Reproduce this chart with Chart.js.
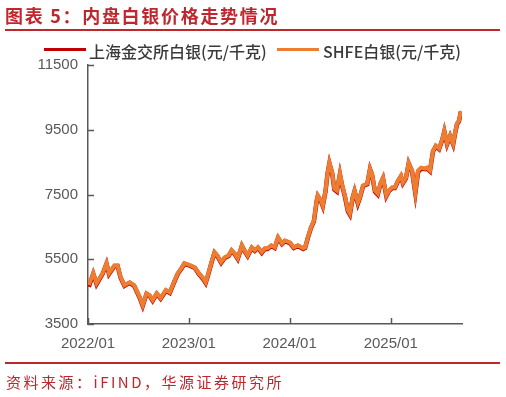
<!DOCTYPE html>
<html>
<head>
<meta charset="utf-8">
<script src="https://cdn.jsdelivr.net/npm/chart.js@4"></script>
<style>
  body { margin: 0; background: #fff; }
  #wrap { position: relative; width: 506px; height: 397px; overflow: hidden; }
  #chart { position: absolute; left: 0; top: 0; }
  .title { position: absolute; left: 5px; top: 2px; font: bold 18px "Noto Sans CJK SC", sans-serif; color: #c0262d; letter-spacing: 1.7px; white-space: nowrap; }
  .rule { position: absolute; left: 5px; width: 495px; height: 2px; background: #c0262d; }
  .legend { position: absolute; top: 39px; font: 500 16px "Noto Sans CJK SC", "Liberation Sans", sans-serif; color: #3a3a3a; white-space: nowrap; }
  .key { position: absolute; top: 48px; width: 42px; height: 3px; }
  .source { position: absolute; left: 6px; top: 371px; font: 15px "Noto Sans CJK SC", sans-serif; color: #c0262d; letter-spacing: 2.5px; white-space: nowrap; }
</style>
</head>
<body>
<div id="wrap">
  <canvas id="chart" width="506" height="397"></canvas>
  <div class="title">图表 5：内盘白银价格走势情况</div>
  <div class="rule" style="top:29px"></div>
  <div class="key" style="left:44px;background:#c00000"></div>
  <div class="legend" id="lg1" style="left:89px"></div>
  <div class="key" style="left:277px;background:#ed7d31"></div>
  <div class="legend" id="lg2" style="left:323px"></div>
  <div class="rule" style="top:362px"></div>
  <div class="source">资料来源：iFIND，华源证券研究所</div>
</div>
<script>
const seriesNames = ['上海金交所白银(元/千克)', 'SHFE白银(元/千克)'];

const dates = [
    '2022-01-04', '2022-01-20', '2022-02-01', '2022-02-23', '2022-03-09', '2022-03-18', '2022-04-07', '2022-04-18',
    '2022-04-29', '2022-05-13', '2022-06-01', '2022-06-17', '2022-07-07', '2022-07-18', '2022-08-01', '2022-08-12',
    '2022-08-23', '2022-09-07', '2022-09-21', '2022-10-10', '2022-10-24', '2022-11-11', '2022-11-22', '2022-12-07',
    '2022-12-16', '2023-01-05', '2023-01-23', '2023-02-06', '2023-02-21', '2023-03-03', '2023-03-14', '2023-03-24',
    '2023-04-04', '2023-04-14', '2023-04-28', '2023-05-11', '2023-05-25', '2023-06-05', '2023-06-16', '2023-06-27',
    '2023-07-12', '2023-07-21', '2023-08-02', '2023-08-17', '2023-08-28', '2023-09-08', '2023-09-22', '2023-10-03',
    '2023-10-13', '2023-10-27', '2023-11-08', '2023-11-20', '2023-12-04', '2023-12-15', '2024-01-02', '2024-01-16',
    '2024-01-31', '2024-02-19', '2024-02-26', '2024-03-07', '2024-03-18', '2024-03-29', '2024-04-08', '2024-04-12',
    '2024-04-23', '2024-04-30', '2024-05-10', '2024-05-17', '2024-05-24', '2024-06-03', '2024-06-11', '2024-06-20',
    '2024-07-01', '2024-07-08', '2024-07-19', '2024-07-30', '2024-08-06', '2024-08-16', '2024-08-23', '2024-09-04',
    '2024-09-11', '2024-09-23', '2024-10-08', '2024-10-18', '2024-10-25', '2024-11-05', '2024-11-15', '2024-11-26',
    '2024-12-04', '2024-12-16', '2024-12-25', '2025-01-06', '2025-01-16', '2025-01-27', '2025-02-07', '2025-02-14',
    '2025-02-25', '2025-03-07', '2025-03-19', '2025-03-31', '2025-04-10', '2025-04-21', '2025-05-06', '2025-05-12',
    '2025-05-23', '2025-06-03', '2025-06-13', '2025-06-25', '2025-07-07', '2025-07-14', '2025-07-24', '2025-08-04',
    '2025-08-15', '2025-08-22', '2025-08-29', '2025-09-05', '2025-09-12'
];

const shfe = [
    4700, 5070, 4760, 5070, 5380, 5070, 5310, 5310,
    4950, 4700, 4790, 4700, 4330, 4080, 4450, 4390,
    4240, 4450, 4300, 4550, 4480, 4850, 5070, 5250,
    5380, 5320, 5250, 5070, 4920, 4790, 5100, 5410,
    5720, 5620, 5410, 5560, 5620, 5780, 5680, 5530,
    5930, 5780, 5620, 5870, 5780, 5870, 5720, 5840,
    5840, 5930, 5870, 6180, 5990, 6080, 6020, 5870,
    5930, 5840, 5870, 6180, 6480, 6700, 7320, 7470,
    7320, 7160, 7620, 8150, 8480, 8180, 7680, 7620,
    8150, 7840, 7470, 7010, 6910, 7410, 7620, 7250,
    7410, 7780, 7840, 8300, 8150, 7620, 7530, 7870,
    8020, 7470, 7620, 7720, 7720, 7930, 8080, 7870,
    8020, 8480, 8240, 7560, 8240, 8330, 8300, 8330,
    8240, 8850, 9010, 8920, 9220, 9470, 9070, 9320,
    9070, 9410, 9690, 9780, 10080
];

const sge = [
    4650, 5050, 4730, 5050, 5360, 5040, 5290, 5290,
    4930, 4680, 4770, 4680, 4310, 4060, 4430, 4370,
    4220, 4430, 4280, 4530, 4460, 4830, 5050, 5230,
    5360, 5300, 5230, 5050, 4900, 4770, 5080, 5390,
    5700, 5600, 5390, 5540, 5600, 5760, 5660, 5510,
    5910, 5760, 5600, 5850, 5760, 5850, 5700, 5820,
    5820, 5910, 5850, 6160, 5970, 6060, 6000, 5850,
    5910, 5820, 5850, 6160, 6460, 6680, 7300, 7450,
    7300, 7140, 7600, 8130, 8460, 8150, 7650, 7590,
    8120, 7810, 7440, 6980, 6880, 7390, 7600, 7220,
    7390, 7760, 7820, 8280, 8120, 7590, 7500, 7850,
    8000, 7450, 7600, 7700, 7700, 7910, 8060, 7850,
    8000, 8460, 8220, 7540, 8200, 8300, 8280, 8310,
    8220, 8830, 8990, 8900, 9200, 9450, 9050, 9300,
    9050, 9390, 9670, 9760, 10060
];

const yTicks = [3500, 5500, 7500, 9500, 11500];
const xTickLabels = ['2022/01', '2023/01', '2024/01', '2025/01'];
const xTickDates = ['2022-01-01', '2023-01-01', '2024-01-01', '2025-01-01'];
const lastDate = '2025-09-16';

document.getElementById('lg1').innerText = seriesNames[0];
document.getElementById('lg2').innerText = seriesNames[1];

function dayIndex(d) {
    return (Date.parse(d) - Date.parse('2022-01-01')) / 86400000;
}

const xTickValues = xTickDates.map(dayIndex);
const axisColor = '#595959';

// small inward tick marks like the original
const innerTicks = {
    id: 'innerTicks',
    afterDraw(chart) {
        const ctx = chart.ctx;
        const x = chart.scales.x, y = chart.scales.y;
        ctx.save();
        ctx.strokeStyle = axisColor;
        ctx.lineWidth = 1.5;
        ctx.beginPath();
        yTicks.forEach(v => {
            const py = Math.round(y.getPixelForValue(v)) + 0.5;
            ctx.moveTo(x.left, py);
            ctx.lineTo(x.left + 6, py);
        });
        xTickValues.forEach(v => {
            const px = Math.round(x.getPixelForValue(v)) + 0.5;
            ctx.moveTo(px, y.bottom);
            ctx.lineTo(px, y.bottom - 6);
        });
        ctx.stroke();
        ctx.restore();
    }
};

const toPoints = vals => vals.map((v, i) => ({ x: dayIndex(dates[i]), y: v }));

new Chart(document.getElementById('chart'), {
    type: 'line',
    data: {
        datasets: [{
            label: seriesNames[0],
            data: toPoints(sge),
            borderColor: '#c00000',
            borderWidth: 4.5,
            pointRadius: 0,
            order: 2
        }, {
            label: seriesNames[1],
            data: toPoints(shfe),
            borderColor: '#ed7d31',
            borderWidth: 4,
            pointRadius: 0,
            order: 1
        }]
    },
    options: {
        responsive: false,
        animation: false,
        layout: { padding: { top: 65, right: 44, left: 0, bottom: 0 } },
        plugins: { legend: { display: false }, tooltip: { enabled: false } },
        scales: {
            x: {
                type: 'linear',
                min: 0,
                max: dayIndex(lastDate),
                afterFit: s => { s.height = 73; },
                afterBuildTicks: s => { s.ticks = xTickValues.map(v => ({ value: v })); },
                grid: { display: true, drawOnChartArea: false, drawTicks: false },
                border: { display: true, color: axisColor, width: 1.5 },
                ticks: {
                    padding: 11,
                    maxRotation: 0,
                    autoSkip: false,
                    color: '#595959',
                    font: { family: 'Liberation Sans', size: 15 },
                    callback: v => xTickLabels[xTickValues.indexOf(v)]
                }
            },
            y: {
                min: 3500,
                max: 11500,
                afterFit: s => { s.width = 88; },
                afterBuildTicks: s => { s.ticks = yTicks.map(v => ({ value: v })); },
                grid: { display: true, drawOnChartArea: false, drawTicks: false },
                border: { display: true, color: axisColor, width: 1.5 },
                ticks: {
                    padding: 10,
                    color: '#595959',
                    font: { family: 'Liberation Sans', size: 15 },
                    callback: v => String(v)
                }
            }
        }
    },
    plugins: [innerTicks]
});
</script>
</body>
</html>
